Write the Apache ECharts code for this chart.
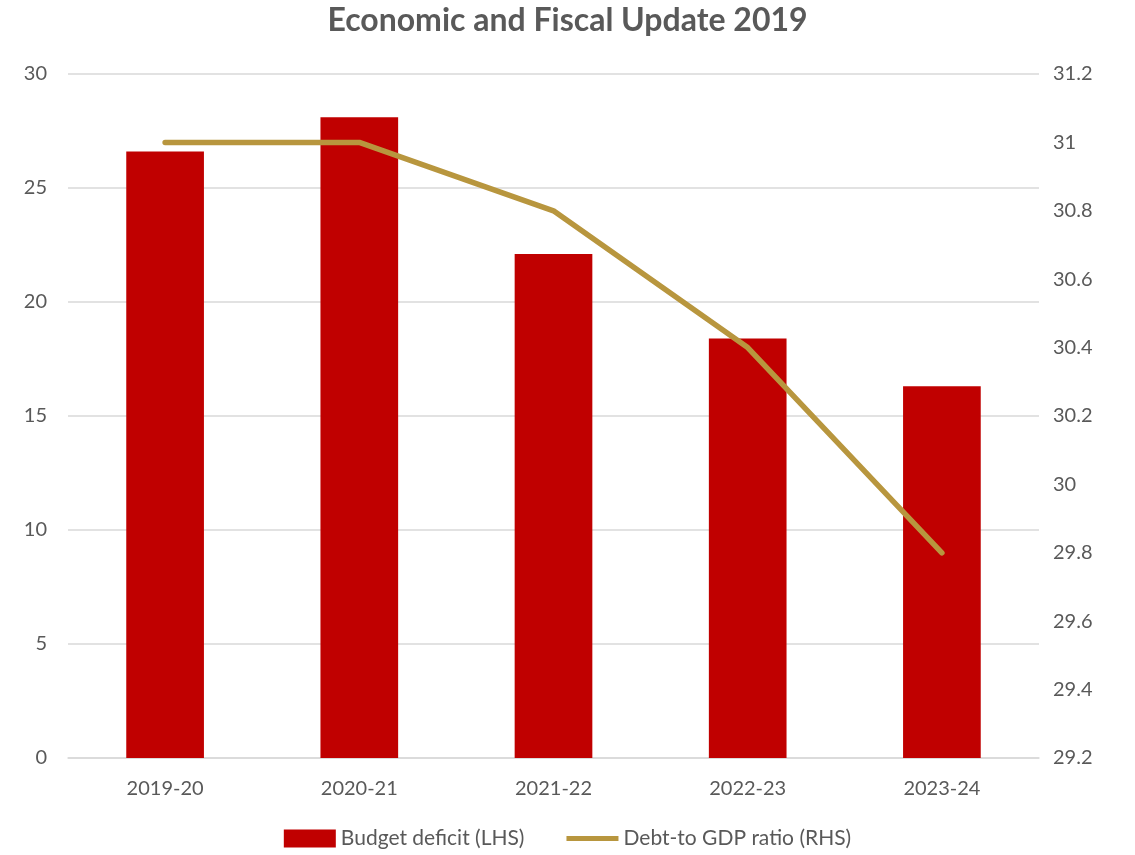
<!DOCTYPE html>
<html>
<head>
<meta charset="utf-8">
<script src="https://cdn.jsdelivr.net/npm/echarts@6/dist/echarts.min.js"></script>
<style>
  html, body { margin: 0; padding: 0; background: #fff; }
  #chart { width: 1135px; height: 855px; }
</style>
</head>
<body>
<div id="chart"></div>
<script>
const categories = ['2019-20', '2020-21', '2021-22', '2022-23', '2023-24'];
const budgetDeficit = [26.6, 28.1, 22.1, 18.4, 16.3];
const debtToGdp = [31.0, 31.0, 30.8, 30.4, 29.8];

const textColor = '#595959';
const font = 'Lato, "Open Sans", sans-serif';

const chart = echarts.init(document.getElementById('chart'));
chart.setOption({
  backgroundColor: '#fff',
  animation: false,
  title: {
    text: 'Economic and Fiscal Update 2019',
    left: 'center',
    top: 0,
    textStyle: { color: textColor, fontSize: 32, fontWeight: 'bold', fontFamily: font }
  },
  legend: {
    bottom: 1,
    left: 'center',
    itemGap: 42,
    itemWidth: 52,
    itemHeight: 18,
    textStyle: { color: textColor, fontSize: 21, fontFamily: font },
    data: [
      { name: 'Budget deficit (LHS)', icon: 'rect' },
      { name: 'Debt-to GDP ratio (RHS)', icon: 'path://M0,6.5 L52,6.5 L52,11.5 L0,11.5 Z' }
    ]
  },
  grid: { left: 68, right: 96, top: 74, bottom: 97 },
  xAxis: {
    type: 'category',
    data: categories,
    axisLine: { lineStyle: { color: '#d9d9d9', width: 1.5 } },
    axisTick: { show: false },
    axisLabel: { color: textColor, fontSize: 20, margin: 21, fontFamily: font }
  },
  yAxis: [
    {
      type: 'value', min: 0, max: 30, interval: 5,
      axisLine: { show: false }, axisTick: { show: false },
      axisLabel: { color: textColor, fontSize: 20, margin: 21, fontFamily: font },
      splitLine: { lineStyle: { color: '#d9d9d9', width: 1.5 } }
    },
    {
      type: 'value', min: 29.2, max: 31.2, interval: 0.2,
      axisLine: { show: false }, axisTick: { show: false },
      axisLabel: {
        color: textColor, fontSize: 20, margin: 14, fontFamily: font,
        formatter: v => String(parseFloat(v.toFixed(1)))
      },
      splitLine: { show: false }
    }
  ],
  series: [
    {
      name: 'Budget deficit (LHS)',
      type: 'bar',
      data: budgetDeficit,
      barWidth: '40%',
      itemStyle: { color: '#C00000' }
    },
    {
      name: 'Debt-to GDP ratio (RHS)',
      type: 'line',
      yAxisIndex: 1,
      data: debtToGdp,
      symbol: 'none',
      lineStyle: { color: '#B8963E', width: 5.5, cap: 'round', join: 'round' },
      itemStyle: { color: '#B8963E' }
    }
  ]
});
</script>
</body>
</html>
